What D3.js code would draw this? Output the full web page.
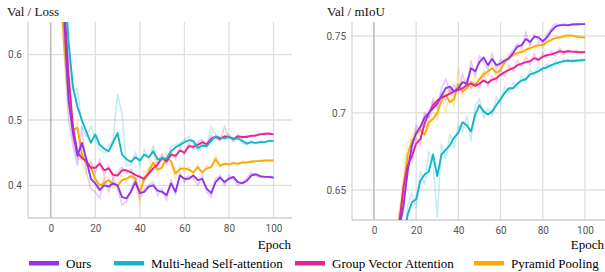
<!DOCTYPE html>
<html>
<head>
<meta charset="utf-8">
<script src="https://cdn.jsdelivr.net/npm/d3@7"></script>
<style>
  body { margin: 0; background: #fff; }
</style>
</head>
<body>
<div id="chart"></div>
<script>
// Epochs sampled every 2 epochs
var epochs = d3.range(2, 101, 2);

// Series names and colours (TensorBoard palette)
var seriesNames = ["Ours", "Multi-head Self-attention", "Group Vector Attention", "Pyramid Pooling"];
var seriesColors = ["#9334e6", "#12b5cb", "#e52592", "#f9ab00"];

// Val / Loss — smoothed and raw values
var lossOurs = [0.90,0.78,0.66,0.53,0.48,0.445,0.465,0.44,0.41,0.403,0.393,0.40,0.398,0.403,0.40,0.382,0.38,0.39,0.405,0.388,0.39,0.398,0.40,0.392,0.39,0.385,0.403,0.39,0.415,0.41,0.41,0.415,0.408,0.41,0.395,0.388,0.405,0.412,0.405,0.41,0.413,0.405,0.403,0.407,0.415,0.417,0.414,0.413,0.413,0.412];
var lossOursRaw = [0.86,0.74,0.61,0.50,0.46,0.43,0.49,0.42,0.395,0.39,0.38,0.41,0.39,0.41,0.395,0.37,0.375,0.395,0.41,0.38,0.395,0.40,0.405,0.385,0.395,0.378,0.41,0.385,0.42,0.405,0.415,0.41,0.40,0.415,0.39,0.382,0.41,0.415,0.40,0.415,0.41,0.40,0.405,0.41,0.42,0.415,0.412,0.414,0.412,0.411];
var lossMhsa = [1.0,0.85,0.72,0.62,0.55,0.52,0.50,0.482,0.465,0.478,0.462,0.456,0.452,0.466,0.48,0.447,0.44,0.436,0.443,0.438,0.447,0.443,0.452,0.44,0.44,0.441,0.452,0.458,0.462,0.466,0.469,0.468,0.457,0.461,0.46,0.468,0.475,0.473,0.472,0.474,0.471,0.472,0.468,0.464,0.466,0.465,0.466,0.466,0.468,0.468];
var lossMhsaRaw = [0.97,0.82,0.70,0.60,0.545,0.548,0.49,0.475,0.49,0.47,0.455,0.45,0.46,0.47,0.54,0.51,0.43,0.432,0.45,0.43,0.455,0.44,0.46,0.432,0.445,0.435,0.46,0.462,0.465,0.47,0.475,0.465,0.452,0.465,0.458,0.49,0.478,0.47,0.476,0.478,0.468,0.475,0.465,0.462,0.468,0.463,0.468,0.465,0.469,0.467];
var lossGva = [0.92,0.80,0.68,0.57,0.49,0.45,0.442,0.437,0.427,0.427,0.433,0.423,0.426,0.416,0.415,0.423,0.423,0.42,0.416,0.413,0.41,0.418,0.426,0.432,0.442,0.437,0.447,0.445,0.453,0.45,0.46,0.459,0.462,0.466,0.463,0.471,0.474,0.471,0.475,0.474,0.471,0.475,0.474,0.474,0.476,0.476,0.478,0.479,0.479,0.478];
var lossGvaRaw = [0.89,0.77,0.65,0.55,0.47,0.44,0.45,0.43,0.435,0.42,0.44,0.415,0.43,0.41,0.42,0.428,0.418,0.425,0.41,0.415,0.405,0.425,0.43,0.436,0.448,0.432,0.452,0.44,0.458,0.448,0.465,0.455,0.466,0.47,0.46,0.476,0.472,0.468,0.49,0.472,0.468,0.478,0.472,0.476,0.474,0.478,0.48,0.477,0.481,0.477];
var lossPyr = [0.88,0.74,0.62,0.54,0.485,0.488,0.447,0.433,0.428,0.41,0.40,0.403,0.408,0.402,0.399,0.408,0.41,0.414,0.41,0.388,0.412,0.42,0.435,0.424,0.427,0.442,0.437,0.418,0.425,0.426,0.424,0.42,0.428,0.42,0.426,0.428,0.44,0.43,0.433,0.432,0.434,0.433,0.435,0.435,0.436,0.437,0.437,0.438,0.438,0.438];
var lossPyrRaw = [0.85,0.71,0.60,0.52,0.47,0.50,0.435,0.42,0.44,0.40,0.39,0.41,0.415,0.395,0.405,0.415,0.405,0.42,0.405,0.37,0.42,0.425,0.455,0.415,0.432,0.45,0.43,0.41,0.43,0.42,0.428,0.415,0.432,0.418,0.43,0.425,0.446,0.428,0.436,0.43,0.437,0.431,0.437,0.434,0.438,0.436,0.439,0.437,0.439,0.438];

// Val / mIoU — smoothed and raw values
var miouOurs = [0.50,0.54,0.57,0.59,0.61,0.625,0.64,0.662,0.679,0.687,0.691,0.697,0.70,0.703,0.706,0.711,0.716,0.717,0.714,0.716,0.72,0.719,0.729,0.727,0.733,0.736,0.731,0.735,0.731,0.732,0.734,0.7355,0.739,0.743,0.744,0.748,0.746,0.7495,0.749,0.7465,0.749,0.753,0.756,0.757,0.757,0.757,0.7574,0.7575,0.7576,0.7576];
var miouOursRaw = [0.49,0.535,0.565,0.585,0.605,0.63,0.635,0.668,0.675,0.692,0.688,0.70,0.697,0.707,0.704,0.716,0.722,0.713,0.718,0.713,0.725,0.716,0.734,0.724,0.737,0.733,0.728,0.739,0.728,0.735,0.732,0.738,0.741,0.745,0.742,0.752,0.744,0.751,0.747,0.745,0.751,0.755,0.758,0.756,0.758,0.756,0.758,0.757,0.758,0.7575];
var miouMhsa = [0.45,0.49,0.52,0.55,0.58,0.60,0.618,0.634,0.642,0.644,0.656,0.660,0.662,0.673,0.659,0.673,0.676,0.679,0.684,0.687,0.694,0.692,0.688,0.699,0.705,0.701,0.699,0.701,0.705,0.709,0.713,0.716,0.716,0.719,0.721,0.722,0.725,0.726,0.727,0.729,0.7295,0.731,0.732,0.733,0.7335,0.734,0.7335,0.734,0.734,0.7344];
var miouMhsaRaw = [0.44,0.485,0.515,0.545,0.575,0.595,0.612,0.64,0.648,0.638,0.662,0.653,0.675,0.668,0.632,0.68,0.67,0.686,0.678,0.692,0.688,0.698,0.682,0.705,0.709,0.697,0.703,0.698,0.71,0.706,0.717,0.713,0.72,0.716,0.724,0.72,0.728,0.724,0.73,0.727,0.732,0.729,0.734,0.731,0.735,0.733,0.735,0.733,0.735,0.734];
var miouGva = [0.48,0.52,0.56,0.59,0.61,0.628,0.652,0.666,0.672,0.68,0.683,0.693,0.70,0.705,0.708,0.71,0.711,0.7125,0.714,0.715,0.716,0.718,0.719,0.7175,0.719,0.721,0.7195,0.7215,0.7225,0.7247,0.7265,0.728,0.729,0.731,0.732,0.733,0.7335,0.7355,0.7345,0.7365,0.7375,0.738,0.739,0.740,0.7395,0.740,0.7398,0.7395,0.7394,0.7394];
var miouGvaRaw = [0.47,0.515,0.555,0.585,0.615,0.635,0.648,0.672,0.668,0.684,0.679,0.698,0.697,0.709,0.704,0.713,0.708,0.716,0.711,0.718,0.713,0.722,0.716,0.72,0.716,0.725,0.717,0.724,0.72,0.728,0.724,0.731,0.727,0.734,0.73,0.736,0.731,0.738,0.733,0.739,0.736,0.74,0.737,0.742,0.738,0.741,0.739,0.741,0.739,0.74];
var miouPyr = [0.49,0.53,0.565,0.59,0.61,0.628,0.652,0.673,0.682,0.686,0.689,0.686,0.694,0.696,0.70,0.708,0.712,0.707,0.709,0.719,0.714,0.716,0.72,0.718,0.722,0.725,0.727,0.729,0.726,0.728,0.733,0.7355,0.7375,0.739,0.7395,0.741,0.742,0.743,0.744,0.744,0.746,0.7475,0.7485,0.749,0.7495,0.7505,0.750,0.7496,0.749,0.7489];
var miouPyrRaw = [0.48,0.525,0.56,0.585,0.615,0.635,0.66,0.68,0.685,0.69,0.684,0.692,0.69,0.703,0.695,0.712,0.70,0.715,0.704,0.73,0.71,0.72,0.716,0.724,0.72,0.728,0.724,0.732,0.723,0.731,0.736,0.734,0.74,0.737,0.742,0.739,0.745,0.741,0.746,0.742,0.748,0.746,0.75,0.748,0.751,0.749,0.751,0.749,0.75,0.749];

// Tick values
var xTicks = [0, 20, 40, 60, 80, 100];
var lossTicks = [0.4, 0.5, 0.6];
var miouTicks = [0.65, 0.7, 0.75];

var W = 605, H = 272;
var serif = "'Liberation Serif', 'Times New Roman', 'DejaVu Serif', serif";
var sans = "Roboto, 'Noto Sans', sans-serif";

var svg = d3.select("#chart")
    .append("svg")
    .attr("width", W)
    .attr("height", H);

// Draw one TensorBoard-like panel
function drawPanel(p) {
    var xScale = d3.scaleLinear().domain(p.xDomain).range([p.left, p.right]);
    var yScale = d3.scaleLinear().domain(p.yDomain).range([p.bottom, p.top]);
    var g = svg.append("g");

    // horizontal grid
    g.selectAll(".hgrid")
        .data(p.yTicks)
        .enter().append("line")
        .attr("x1", p.left).attr("x2", p.right)
        .attr("y1", function(d) { return yScale(d); })
        .attr("y2", function(d) { return yScale(d); })
        .attr("stroke", "#dedede").attr("stroke-width", 1.3);

    // vertical grid, 0 line darker
    g.selectAll(".vgrid")
        .data(xTicks)
        .enter().append("line")
        .attr("x1", function(d) { return xScale(d); })
        .attr("x2", function(d) { return xScale(d); })
        .attr("y1", p.top).attr("y2", p.bottom)
        .attr("stroke", function(d) { return d === 0 ? "#bdbdbd" : "#dedede"; })
        .attr("stroke-width", function(d) { return d === 0 ? 1.6 : 1.3; });

    // axis frame lines (left + bottom)
    g.append("line")
        .attr("x1", p.left).attr("x2", p.left)
        .attr("y1", p.top).attr("y2", p.bottom)
        .attr("stroke", "#d6d6d6").attr("stroke-width", 1.3);
    g.append("line")
        .attr("x1", p.left).attr("x2", p.right)
        .attr("y1", p.bottom).attr("y2", p.bottom)
        .attr("stroke", "#cfcfcf").attr("stroke-width", 1.3);

    // axes (labels only)
    var xa = g.append("g")
        .attr("transform", "translate(0," + p.bottom + ")")
        .call(d3.axisBottom(xScale).tickValues(xTicks).tickSize(0).tickPadding(p.xPad).tickFormat(d3.format("d")));
    var ya = g.append("g")
        .attr("transform", "translate(" + p.left + ",0)")
        .call(d3.axisLeft(yScale).tickValues(p.yTicks).tickSize(0).tickPadding(6).tickFormat(d3.format("")));
    [xa, ya].forEach(function(a) {
        a.select(".domain").remove();
        a.attr("font-family", sans).attr("font-size", 10);
        a.selectAll("text").attr("fill", "#555");
    });

    // clip to plot area
    g.append("clipPath").attr("id", p.id)
        .append("rect")
        .attr("x", p.left).attr("y", p.top)
        .attr("width", p.right - p.left).attr("height", p.bottom - p.top);

    var line = d3.line()
        .x(function(d, i) { return xScale(epochs[i]); })
        .y(function(d) { return yScale(d); });

    var plot = g.append("g").attr("clip-path", "url(#" + p.id + ")");

    // raw lines faint first, then smoothed on top
    p.raw.forEach(function(s, k) {
        plot.append("path").datum(s)
            .attr("d", line).attr("fill", "none")
            .attr("stroke", seriesColors[k]).attr("stroke-opacity", 0.25)
            .attr("stroke-width", 1.6);
    });
    [3, 2, 1, 0].forEach(function(k) {
        plot.append("path").datum(p.smooth[k])
            .attr("d", line).attr("fill", "none")
            .attr("stroke", seriesColors[k])
            .attr("stroke-width", 1.9)
            .attr("stroke-linejoin", "round");
    });

    // title and x label
    g.append("text")
        .attr("x", p.titleX).attr("y", 15.5)
        .attr("font-family", serif).attr("font-size", 13).attr("fill", "#111")
        .text(p.title);
    g.append("text")
        .attr("x", p.right - 1).attr("y", 249)
        .attr("font-family", serif).attr("font-size", 13).attr("fill", "#000")
        .attr("text-anchor", "end").text("Epoch");
}

drawPanel({
    id: "clipLoss", left: 28, right: 292, top: 22, bottom: 218, xPad: 7,
    xDomain: [-10.2, 108.3], yDomain: [0.35, 0.65], yTicks: lossTicks,
    title: "Val / Loss", titleX: 7,
    smooth: [lossOurs, lossMhsa, lossGva, lossPyr],
    raw: [lossOursRaw, lossMhsaRaw, lossGvaRaw, lossPyrRaw]
});

drawPanel({
    id: "clipMiou", left: 352, right: 605, top: 22, bottom: 220, xPad: 7,
    xDomain: [-10.4, 109.5], yDomain: [0.6305, 0.759], yTicks: miouTicks,
    title: "Val / mIoU", titleX: 327,
    smooth: [miouOurs, miouMhsa, miouGva, miouPyr],
    raw: [miouOursRaw, miouMhsaRaw, miouGvaRaw, miouPyrRaw]
});

// Legend along the bottom
var legendX = [29, 114, 295, 474];
var legend = svg.append("g");
var items = legend.selectAll("g")
    .data(seriesNames)
    .enter().append("g")
    .attr("transform", function(d, i) { return "translate(" + legendX[i] + ",0)"; });
items.append("rect")
    .attr("x", 0).attr("y", 261).attr("width", 30).attr("height", 4.5)
    .attr("fill", function(d, i) { return seriesColors[i]; });
items.append("text")
    .attr("x", 37).attr("y", 267.5)
    .attr("font-family", serif).attr("font-size", 13).attr("fill", "#000")
    .text(function(d) { return d; });
</script>
</body>
</html>
